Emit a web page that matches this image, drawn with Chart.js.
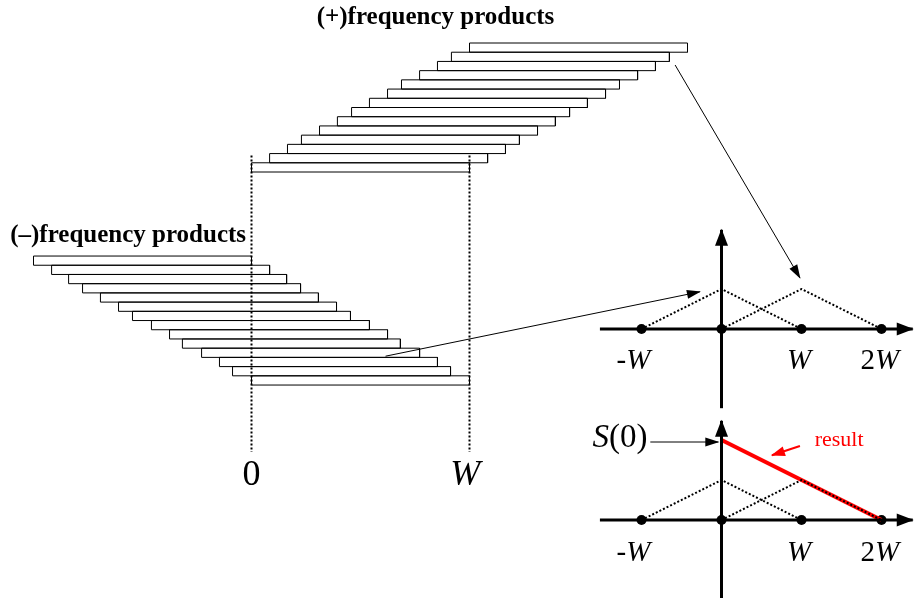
<!DOCTYPE html>
<html>
<head>
<meta charset="utf-8">
<style>
  html, body { margin: 0; padding: 0; background: #fff; }
  canvas { display: block; }
</style>
</head>
<body>
<canvas id="diagrama" width="914" height="598"></canvas>

<script src="https://cdn.jsdelivr.net/npm/chart.js"></script>
<script>
  // deslocamentos das barras, em unidades de W (de cima para baixo)
  const plusShifts  = [1.0, 0.917, 0.853, 0.771, 0.688, 0.624, 0.541, 0.459, 0.394, 0.312, 0.229, 0.165, 0.083, 0];
  const minusShifts = [-1.0, -0.917, -0.839, -0.775, -0.693, -0.61, -0.546, -0.459, -0.376, -0.317, -0.229, -0.147, -0.087, 0];
  const barWidth = 1;          // cada produto ocupa a banda 0..W
  const minusFirstRow = 23.12; // linha onde comecam as barras (-)

  // espectros da direita (unidades de W)
  const dotX = [-1, 0, 1, 2];
  const triMinus = [[-1, 0], [0, 1], [1, 0]];
  const triPlus = [[0, 0], [1, 1], [2, 0]];
  const resultLine = [[0, 2], [2, 0]];

  const mainTicks = ['0', 'W'];
  const specTicks = ['-W', 'W', '2W'];

  const BLACK = '#000';
  const RED = '#ff0000';
  const SERIF = '"Liberation Serif", "Times New Roman", serif';

  function pts(arr) { return arr.map(p => ({ x: p[0], y: p[1] })); }

  function rectDs(l, r, top) {
    return {
      data: pts([[l, top], [r, top], [r, top + 1], [l, top + 1], [l, top]]),
      xAxisID: 'xf', yAxisID: 'yr',
      borderColor: BLACK, borderWidth: 1
    };
  }

  const datasets = [];

  plusShifts.forEach((s, k) => datasets.push(rectDs(s, s + barWidth, k)));
  minusShifts.forEach((s, k) => datasets.push(rectDs(s, s + barWidth, minusFirstRow + k)));

  // linhas pontilhadas em 0 e W
  [0, 1].forEach(v => datasets.push({
    data: pts([[v, 12.2], [v, 44.4]]),
    xAxisID: 'xf', yAxisID: 'yr',
    borderColor: BLACK, borderWidth: 2, borderDash: [2, 2]
  }));

  // dois graficos de espectro: ya (cima) e yb (baixo)
  ['ya', 'yb'].forEach(ax => {
    datasets.push({ data: pts(triMinus), xAxisID: 'xs', yAxisID: ax, borderColor: BLACK, borderWidth: 2, borderDash: [2, 2] });
    datasets.push({ data: pts(triPlus), xAxisID: 'xs', yAxisID: ax, borderColor: BLACK, borderWidth: 2, borderDash: [2, 2] });
    datasets.push({ data: pts([[-1.52, 0], [2.39, 0]]), xAxisID: 'xs', yAxisID: ax, borderColor: BLACK, borderWidth: 3, arrowHead: [16, 13] });
    datasets.push({ data: pts([[0, ax === 'ya' ? -1.98 : -2.2], [0, 2.48]]), xAxisID: 'xs', yAxisID: ax, borderColor: BLACK, borderWidth: 3, arrowHead: [16, 13] });
  });

  datasets.push({ data: pts(resultLine), xAxisID: 'xs', yAxisID: 'yb', borderColor: RED, borderWidth: 4 });

  ['ya', 'yb'].forEach(ax => datasets.push({
    data: dotX.map(x => ({ x: x, y: 0 })),
    xAxisID: 'xs', yAxisID: ax,
    showLine: false, pointRadius: 5, pointBackgroundColor: BLACK, pointBorderWidth: 0
  }));

  // setas de ligacao
  datasets.push({ data: pts([[-0.58, 6.6], [0.98, 1.28]]), xAxisID: 'xs', yAxisID: 'ya', borderColor: BLACK, borderWidth: 1, arrowHead: [13, 9] });
  datasets.push({ data: pts([[-4.2, -0.68], [-0.27, 0.93]]), xAxisID: 'xs', yAxisID: 'ya', borderColor: BLACK, borderWidth: 1, arrowHead: [13, 9] });
  datasets.push({ data: pts([[-0.89, 1.95], [-0.04, 1.95]]), xAxisID: 'xs', yAxisID: 'yb', borderColor: BLACK, borderWidth: 1, arrowHead: [13, 9] });
  datasets.push({ data: pts([[0.98, 1.85], [0.63, 1.62]]), xAxisID: 'xs', yAxisID: 'yb', borderColor: RED, borderWidth: 2, arrowHead: [13, 10] });

  // textos: partes com estilo proprio, centradas no ponto
  const labels = [
    { x: 0.844, y: -2.8, xa: 'xf', ya: 'yr', parts: [['(+)frequency products', 'bold 25px']] },
    { x: -1.107, y: 20.95, xa: 'xf', ya: 'yr', align: 'left', parts: [['(\u2013)frequency products', 'bold 25px']] },
    { x: 0, y: 46.9, xa: 'xf', ya: 'yr', parts: [[mainTicks[0], '36px']] },
    { x: 0.98, y: 46.9, xa: 'xf', ya: 'yr', parts: [[mainTicks[1], 'italic 36px']] },
    { x: -1.1, y: -0.8, xa: 'xs', ya: 'ya', parts: [['-', '29px'], [specTicks[0].slice(1), 'italic 29px']] },
    { x: 0.97, y: -0.8, xa: 'xs', ya: 'ya', parts: [[specTicks[1], 'italic 29px']] },
    { x: 1.98, y: -0.8, xa: 'xs', ya: 'ya', parts: [['2', '29px'], ['W', 'italic 29px']] },
    { x: -1.1, y: -0.83, xa: 'xs', ya: 'yb', parts: [['-', '29px'], [specTicks[0].slice(1), 'italic 29px']] },
    { x: 0.97, y: -0.83, xa: 'xs', ya: 'yb', parts: [[specTicks[1], 'italic 29px']] },
    { x: 1.98, y: -0.83, xa: 'xs', ya: 'yb', parts: [['2', '29px'], ['W', 'italic 29px']] },
    { x: -1.27, y: 2.05, xa: 'xs', ya: 'yb', parts: [['S', 'italic 33px'], ['(0)', '33px']] },
    { x: 1.47, y: 2.0, xa: 'xs', ya: 'yb', color: RED, parts: [['result', '22px']] }
  ];

  const arrowPlugin = {
    id: 'setas',
    afterDatasetsDraw(chart) {
      const ctx = chart.ctx;
      chart.data.datasets.forEach((ds, i) => {
        if (!ds.arrowHead) return;
        const p = chart.getDatasetMeta(i).data;
        const a = p[p.length - 2], b = p[p.length - 1];
        const ang = Math.atan2(b.y - a.y, b.x - a.x);
        const len = ds.arrowHead[0], w = ds.arrowHead[1] / 2;
        ctx.save();
        ctx.translate(b.x, b.y);
        ctx.rotate(ang);
        ctx.fillStyle = ds.borderColor;
        ctx.beginPath();
        ctx.moveTo(1, 0);
        ctx.lineTo(-len, -w);
        ctx.lineTo(-len, w);
        ctx.closePath();
        ctx.fill();
        ctx.restore();
      });
    },
    afterDraw(chart) {
      const ctx = chart.ctx;
      ctx.save();
      ctx.textBaseline = 'middle';
      labels.forEach(lb => {
        const px = chart.scales[lb.xa].getPixelForValue(lb.x);
        const py = chart.scales[lb.ya].getPixelForValue(lb.y);
        let total = 0;
        lb.parts.forEach(pt => { ctx.font = pt[1] + ' ' + SERIF; total += ctx.measureText(pt[0]).width; });
        let cx = lb.align === 'left' ? px : px - total / 2;
        ctx.fillStyle = lb.color || BLACK;
        lb.parts.forEach(pt => {
          ctx.font = pt[1] + ' ' + SERIF;
          ctx.textAlign = 'left';
          ctx.fillText(pt[0], cx, py);
          cx += ctx.measureText(pt[0]).width;
        });
      });
      ctx.restore();
    }
  };

  const hidden = { type: 'linear', display: false, bounds: 'data' };

  new Chart(document.getElementById('diagrama').getContext('2d'), {
    type: 'scatter',
    data: { datasets: datasets },
    options: {
      responsive: false,
      animation: false,
      events: [],
      layout: { padding: 0, autoPadding: false },
      elements: {
        line: { fill: false, tension: 0, borderCapStyle: 'butt' },
        point: { radius: 0 }
      },
      datasets: { scatter: { showLine: true } },
      plugins: { legend: { display: false }, tooltip: { enabled: false } },
      scales: {
        xf: Object.assign({}, hidden, { axis: 'x', position: 'bottom', min: -1.1537, max: 3.039 }),
        yr: Object.assign({}, hidden, { axis: 'y', position: 'left', reverse: true, min: -4.667, max: 60.233 }),
        xs: Object.assign({}, hidden, { axis: 'x', position: 'bottom', min: -9.019, max: 2.406 }),
        ya: Object.assign({}, hidden, { axis: 'y', position: 'left', min: -6.725, max: 8.225 }),
        yb: Object.assign({}, hidden, { axis: 'y', position: 'left', min: -1.95, max: 13 })
      }
    },
    plugins: [arrowPlugin]
  });
</script>
</body>
</html>
